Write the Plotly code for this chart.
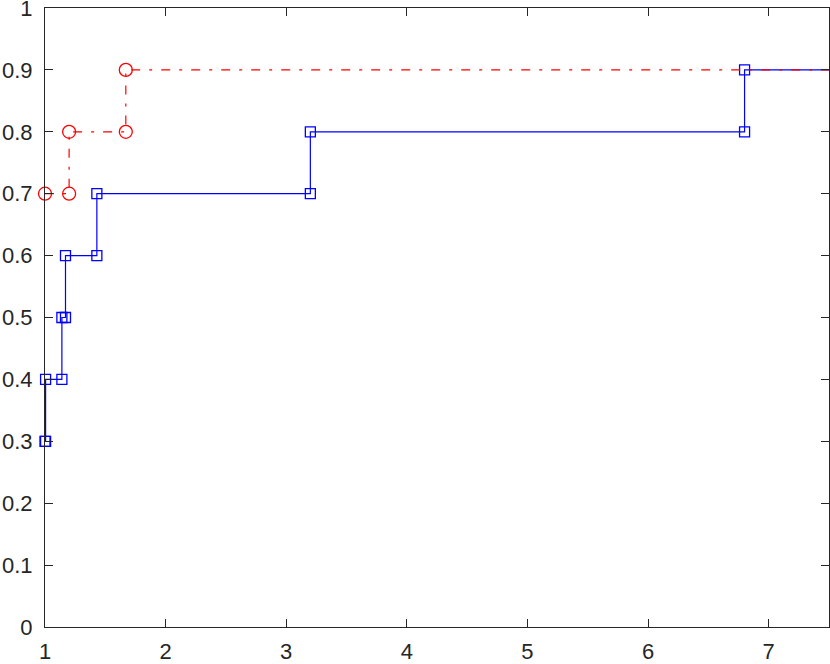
import plotly.graph_objects as go

# Performance-profile style step data
blue_tau = [1.0, 1.005, 1.14, 1.17, 1.43, 3.2, 6.8]
blue_rho = [0.3, 0.4, 0.5, 0.6, 0.7, 0.8, 0.9]
red_tau = [1.0, 1.2, 1.67]
red_rho = [0.7, 0.8, 0.9]
x_end = 8.0

x_ticks = [1, 2, 3, 4, 5, 6, 7]
y_ticks = [0, 0.1, 0.2, 0.3, 0.4, 0.5, 0.6, 0.7, 0.8, 0.9, 1]
y_ticktext = ["0", "0.1", "0.2", "0.3", "0.4", "0.5", "0.6", "0.7", "0.8", "0.9", "1"]


def step_path(tau, rho, xend):
    xs, ys = [tau[0]], [rho[0]]
    for i in range(1, len(tau)):
        xs += [tau[i], tau[i]]
        ys += [rho[i - 1], rho[i]]
    xs.append(xend)
    ys.append(rho[-1])
    return xs, ys


bx, by = step_path(blue_tau, blue_rho, x_end)
rx, ry = step_path(red_tau, red_rho, x_end)

fig = go.Figure()
fig.add_trace(go.Scatter(
    x=bx, y=by, mode="lines+markers", cliponaxis=False,
    line=dict(color="#0000ff", width=1.2),
    marker=dict(symbol="square-open", size=10, color="#0000ff", line=dict(width=1.3)),
    showlegend=False, hoverinfo="skip",
))
fig.add_trace(go.Scatter(
    x=rx, y=ry, mode="lines+markers", cliponaxis=False,
    line=dict(color="#ff0000", width=1.2, dash="9px,9px,3px,9px"),
    marker=dict(symbol="circle-open", size=13, color="#ff0000", line=dict(width=1.3)),
    showlegend=False, hoverinfo="skip",
))

axis_common = dict(
    showgrid=False, zeroline=False, showline=True, linecolor="#262626", linewidth=1,
    ticks="inside", ticklen=8, tickcolor="#262626", tickwidth=1, mirror="ticks",
    automargin=False, ticklabeloverflow="allow",
    tickfont=dict(family="Liberation Sans, Arial, sans-serif", size=22, color="#262626"),
)
fig.update_xaxes(range=[1, 7.5], tickvals=x_ticks, ticklabelstandoff=5, **axis_common)
fig.update_yaxes(range=[0, 1], tickvals=y_ticks, ticktext=y_ticktext, ticklabelstandoff=7, **axis_common)

fig.update_layout(
    width=830, height=664,
    margin=dict(l=45, r=1, t=8, b=37),
    paper_bgcolor="white", plot_bgcolor="white",
)

fig.write_html(
    "out.html",
    config={"displayModeBar": False},
    post_script="document.body.style.margin='0';document.body.style.overflow='hidden';",
)
